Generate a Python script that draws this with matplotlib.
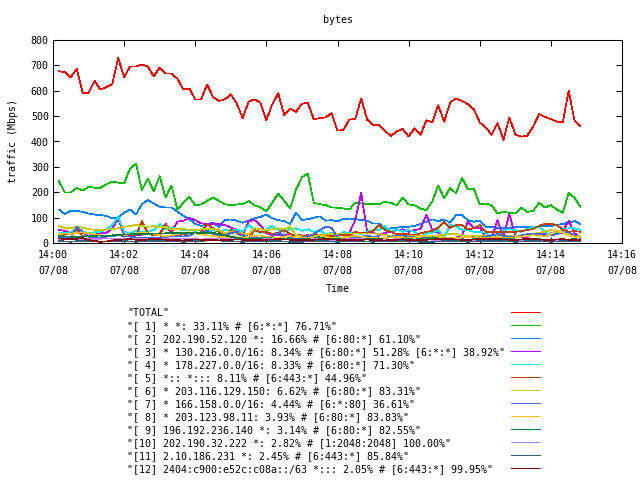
import numpy as np
import pandas as pd
import matplotlib
matplotlib.use("Agg")
import matplotlib.pyplot as plt
import matplotlib.dates as mdates
from matplotlib.lines import Line2D

# one sample every 10 s
temps = pd.date_range("2014-07-08 14:00:10", periods=89, freq="10s")

total = [677, 673, 653, 687, 592, 592, 639, 605, 614, 627, 729, 653, 696, 696, 703, 696, 657, 692, 668, 668,
         647, 605, 609, 566, 566, 625, 575, 560, 566, 586, 550, 492, 557, 566, 553, 484, 547, 590, 505, 530,
         517, 549, 552, 488, 492, 495, 512, 443, 445, 487, 488, 570, 486, 466, 465, 443, 421, 440, 449, 420,
         452, 426, 484, 475, 543, 478, 553, 570, 560, 547, 527, 475, 456, 426, 473, 407, 495, 427, 419, 423,
         458, 508, 497, 488, 479, 475, 599, 482, 460]
s1 = [243, 199, 199, 217, 207, 221, 218, 218, 231, 242, 238, 234, 293, 312, 208, 254, 204, 263, 179, 226,
      132, 158, 182, 149, 152, 166, 179, 166, 153, 149, 152, 153, 165, 149, 140, 125, 159, 195, 166, 136,
      210, 260, 273, 158, 153, 149, 140, 139, 136, 132, 159, 156, 153, 153, 153, 162, 158, 149, 179, 152,
      149, 136, 129, 165, 227, 175, 218, 195, 257, 212, 214, 152, 156, 149, 116, 123, 119, 116, 140, 123,
      126, 158, 140, 149, 132, 119, 197, 178, 142]
s2 = [132, 114, 127, 126, 123, 116, 112, 110, 107, 97, 101, 119, 132, 112, 153, 169, 156, 142, 140, 140,
      123, 107, 94, 75, 67, 73, 80, 64, 90, 93, 88, 80, 88, 97, 103, 112, 97, 90, 86, 75,
      120, 90, 94, 99, 105, 88, 90, 86, 94, 93, 94, 90, 88, 77, 77, 55, 58, 60, 64, 64,
      67, 75, 84, 93, 86, 93, 80, 110, 110, 90, 84, 88, 64, 64, 58, 58, 58, 62, 62, 64,
      64, 64, 67, 67, 71, 75, 80, 86, 75]
s3 = [51, 48, 38, 38, 38, 38, 38, 38, 40, 57, 97, 31, 27, 30, 33, 35, 36, 38, 75, 44,
      84, 88, 99, 90, 77, 75, 75, 75, 71, 61, 51, 31, 86, 90, 71, 38, 31, 31, 31, 31,
      31, 28, 31, 22, 25, 30, 33, 38, 31, 40, 90, 197, 44, 40, 31, 40, 44, 51, 54, 44,
      51, 55, 112, 51, 40, 22, 22, 22, 31, 84, 58, 60, 22, 18, 90, 25, 114, 27, 22, 22,
      38, 38, 38, 38, 40, 44, 88, 38, 22]
s4 = [38, 40, 42, 57, 44, 40, 42, 44, 54, 71, 103, 44, 38, 48, 44, 44, 51, 75, 54, 61,
      54, 51, 51, 48, 51, 44, 51, 44, 51, 48, 54, 44, 71, 51, 40, 54, 67, 51, 44, 54,
      58, 48, 54, 44, 51, 35, 40, 22, 44, 38, 40, 35, 44, 51, 51, 67, 44, 54, 44, 51,
      44, 22, 38, 40, 51, 22, 71, 67, 51, 51, 44, 44, 40, 22, 31, 51, 54, 51, 44, 54,
      64, 64, 44, 31, 44, 54, 58, 58, 51]
s5 = [31, 33, 35, 51, 27, 30, 32, 30, 28, 30, 32, 33, 34, 30, 86, 38, 30, 35, 71, 40,
      36, 35, 38, 40, 42, 75, 58, 44, 31, 51, 38, 28, 18, 51, 44, 44, 35, 40, 51, 35,
      32, 30, 28, 30, 32, 27, 28, 30, 31, 31, 44, 38, 40, 48, 71, 51, 44, 35, 35, 35,
      31, 38, 44, 48, 61, 84, 60, 71, 71, 54, 58, 71, 44, 44, 44, 44, 44, 44, 47, 51,
      55, 67, 75, 75, 71, 54, 44, 47, 44]
s6 = [67, 58, 58, 64, 60, 55, 52, 51, 53, 55, 58, 64, 67, 71, 67, 64, 67, 61, 64, 54,
      55, 55, 52, 51, 54, 54, 54, 51, 38, 44, 40, 38, 35, 58, 55, 51, 54, 58, 54, 64,
      31, 26, 22, 25, 31, 33, 36, 38, 38, 38, 38, 38, 38, 38, 35, 31, 29, 27, 27, 27,
      27, 27, 25, 26, 30, 33, 35, 35, 30, 28, 27, 28, 30, 30, 31, 30, 28, 27, 30, 33,
      35, 40, 45, 51, 45, 38, 34, 30, 28]
s7 = [22, 20, 22, 64, 44, 25, 22, 22, 25, 28, 30, 28, 25, 22, 22, 22, 22, 22, 24, 26,
      28, 25, 30, 40, 38, 48, 35, 28, 28, 40, 42, 30, 25, 22, 20, 18, 25, 40, 30, 22,
      18, 22, 25, 35, 50, 64, 60, 22, 18, 20, 22, 25, 28, 25, 22, 20, 25, 30, 28, 25,
      22, 20, 18, 22, 25, 22, 20, 18, 20, 25, 22, 20, 25, 30, 35, 28, 25, 22, 30, 35,
      38, 35, 32, 30, 35, 40, 42, 30, 20]
s8 = [35, 38, 36, 40, 42, 38, 35, 30, 28, 30, 32, 30, 35, 38, 40, 38, 35, 30, 28, 30,
      35, 40, 42, 38, 35, 30, 28, 25, 22, 25, 22, 20, 25, 28, 30, 25, 22, 20, 25, 28,
      22, 20, 18, 20, 22, 25, 20, 18, 22, 25, 28, 25, 22, 20, 18, 20, 22, 25, 22, 20,
      22, 25, 28, 30, 25, 22, 20, 18, 22, 25, 20, 18, 20, 22, 25, 20, 18, 22, 25, 28,
      30, 28, 25, 35, 50, 42, 30, 25, 22]
s9 = [28, 26, 25, 24, 25, 26, 28, 30, 28, 30, 32, 33, 34, 35, 35, 36, 37, 38, 38, 39,
      40, 40, 40, 41, 40, 40, 40, 35, 30, 25, 20, 18, 15, 16, 18, 20, 18, 17, 16, 15,
      14, 15, 16, 18, 20, 18, 16, 15, 14, 13, 15, 16, 18, 16, 15, 14, 13, 15, 16, 15,
      14, 15, 18, 20, 18, 16, 15, 14, 12, 13, 15, 14, 13, 12, 14, 15, 16, 14, 13, 12,
      14, 15, 13, 12, 10, 12, 14, 15, 13]
s10 = [15, 16, 15, 14, 13, 15, 16, 17, 18, 17, 16, 15, 16, 17, 18, 17, 16, 15, 16, 17,
       18, 17, 16, 15, 14, 15, 16, 17, 16, 15, 14, 13, 12, 13, 14, 15, 16, 15, 14, 13,
       12, 13, 14, 15, 14, 13, 12, 13, 14, 15, 16, 15, 14, 13, 12, 13, 14, 15, 14, 13,
       12, 13, 14, 13, 12, 11, 12, 13, 14, 13, 12, 11, 12, 13, 12, 11, 10, 11, 12, 13,
       14, 13, 12, 11, 12, 13, 14, 13, 12]
s11 = [8, 6, 5, 7, 9, 8, 6, 5, 6, 8, 9, 7, 6, 5, 6, 7, 8, 9, 8, 7,
       6, 5, 6, 7, 8, 10, 12, 10, 8, 7, 6, 5, 6, 7, 8, 9, 8, 7, 6, 5,
       4, 5, 6, 7, 8, 7, 6, 5, 6, 7, 8, 7, 6, 5, 6, 7, 8, 9, 8, 7,
       6, 5, 4, 5, 6, 7, 8, 7, 6, 5, 6, 7, 8, 9, 8, 7, 6, 5, 6, 7,
       8, 7, 6, 5, 6, 7, 8, 7, 6]
s12 = [18, 16, 15, 17, 19, 12, 8, 5, 6, 10, 12, 14, 15, 13, 12, 14, 16, 15, 13, 12,
       11, 10, 12, 14, 13, 12, 11, 10, 12, 13, 14, 13, 12, 11, 12, 13, 14, 15, 14, 13,
       12, 11, 12, 13, 14, 15, 14, 13, 12, 11, 12, 13, 14, 12, 11, 10, 12, 13, 14, 12,
       11, 12, 13, 14, 15, 16, 15, 14, 13, 12, 14, 15, 16, 17, 15, 14, 13, 12, 14, 16,
       15, 14, 13, 12, 14, 15, 13, 12, 11]

series = [total, s1, s2, s3, s4, s5, s6, s7, s8, s9, s10, s11, s12]

labels = [
    '"TOTAL"',
    '"[ 1] * *: 33.11% # [6:*:*] 76.71%"',
    '"[ 2] 202.190.52.120 *: 16.66% # [6:80:*] 61.10%"',
    '"[ 3] * 130.216.0.0/16: 8.34% # [6:80:*] 51.28% [6:*:*] 38.92%"',
    '"[ 4] * 178.227.0.0/16: 8.33% # [6:80:*] 71.30%"',
    '"[ 5] *:: *::: 8.11% # [6:443:*] 44.96%"',
    '"[ 6] * 203.116.129.150: 6.62% # [6:80:*] 83.31%"',
    '"[ 7] * 166.158.0.0/16: 4.44% # [6:*:80] 36.61%"',
    '"[ 8] * 203.123.98.11: 3.93% # [6:80:*] 83.83%"',
    '"[ 9] 196.192.236.140 *: 3.14% # [6:80:*] 82.55%"',
    '"[10] 202.190.32.222 *: 2.82% # [1:2048:2048] 100.00%"',
    '"[11] 2.10.186.231 *: 2.45% # [6:443:*] 85.84%"',
    '"[12] 2404:c900:e52c:c08a::/63 *::: 2.05% # [6:443:*] 99.95%"',
]

couleurs = ["#ff0000", "#00c000", "#0080ff", "#c000ff", "#00eeee", "#c04000", "#c8c800",
            "#4169e1", "#ffc020", "#008040", "#c080ff", "#306080", "#8b0000"]

police = "DejaVu Sans Mono"
taille = 7.2
ep = 0.5  # 1 px, sans lissage

fig = plt.figure(figsize=(6.4, 4.8), dpi=100)
ax = fig.add_axes([53 / 640, 1 - 243 / 480, 569 / 640, 203 / 480])

for valeurs, c in zip(series, couleurs):
    ax.plot(temps, valeurs, color=c, lw=ep, antialiased=False)

ax.set_ylim(0, 800)
ax.set_yticks(np.arange(0, 801, 100))
ticks_x = pd.date_range("2014-07-08 14:00", "2014-07-08 14:16", freq="2min")
ax.set_xlim(ticks_x[0], ticks_x[-1])
ax.set_xticks(ticks_x)
ax.xaxis.set_major_formatter(mdates.DateFormatter("%H:%M\n%m/%d"))

ax.tick_params(direction="in", length=4, width=0.75, top=True, right=True,
               labelsize=taille, colors="black")
ax.tick_params(axis="x", pad=5)
ax.tick_params(axis="y", pad=3)
for lab in ax.get_xticklabels() + ax.get_yticklabels():
    lab.set_family(police)
for lab in ax.get_xticklabels():
    lab.set_linespacing(1.7)
for sp in ax.spines.values():
    sp.set_linewidth(0.75)

# titre et axes
fig.text(337.5 / 640, 1 - 20 / 480, "bytes", ha="center", va="center", family=police, fontsize=taille)
fig.text(337.5 / 640, 1 - 289 / 480, "Time", ha="center", va="center", family=police, fontsize=taille)
fig.text(13 / 640, 1 - 141 / 480, "traffic (Mbps)", ha="center", va="center", rotation=90,
         family=police, fontsize=taille)

# légende en dessous
for i, (lab, c) in enumerate(zip(labels, couleurs)):
    y = 1 - (313 + 13 * i) / 480
    fig.text(127 / 640, y, lab, ha="left", va="center", family=police, fontsize=taille)
    fig.add_artist(Line2D([511 / 640, 540 / 640], [y + 1 / 480, y + 1 / 480], color=c, lw=ep,
                          antialiased=False))

fig.savefig("out.png", dpi=100)
